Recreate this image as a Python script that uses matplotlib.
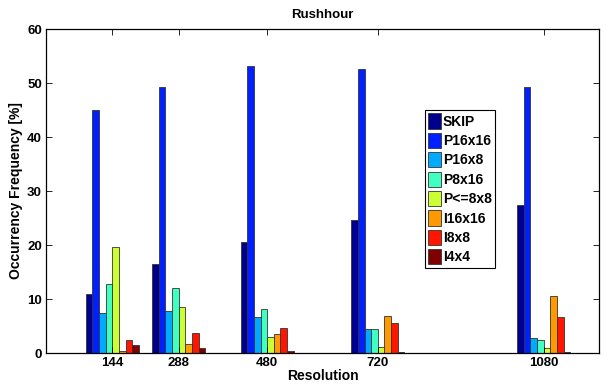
import numpy as np
import matplotlib
matplotlib.use("Agg")
import matplotlib.pyplot as plt

resolutions = [144, 288, 480, 720, 1080]
modes = ["SKIP", "P16x16", "P16x8", "P8x16", "P<=8x8", "I16x16", "I8x8", "I4x4"]

# occurrency frequency [%] per mode, one value per resolution
skip     = [11.0, 16.4, 20.5, 24.6, 27.4]
p16x16   = [45.0, 49.2, 53.2, 52.6, 49.3]
p16x8    = [7.5, 7.8, 6.6, 4.5, 2.7]
p8x16    = [12.8, 12.0, 8.1, 4.5, 2.4]
p8x8     = [19.6, 8.6, 2.9, 1.2, 0.9]
i16x16   = [0.3, 1.6, 3.6, 6.8, 10.6]
i8x8     = [2.5, 3.7, 4.7, 5.5, 6.7]
i4x4     = [1.5, 0.9, 0.4, 0.15, 0.15]

colors = ["#00008f", "#0020ff", "#00aaff", "#40ffc0", "#ccff33", "#ff9900", "#ff1500", "#800000"]

plt.rcParams["font.family"] = ["Liberation Sans", "DejaVu Sans"]
plt.rcParams["font.weight"] = "bold"

fig = plt.figure(figsize=(6.08, 3.85), dpi=100)
ax = fig.add_axes([46 / 608, 1 - 353 / 385, 553 / 608, 324 / 385])

series = [skip, p16x16, p16x8, p8x16, p8x8, i16x16, i8x8, i4x4]
n = len(series)
group_w = 0.8 * 144
w = group_w / n
x = np.array(resolutions, dtype=float)
for i, (vals, name, c) in enumerate(zip(series, modes, colors)):
    off = -group_w / 2 + w * (i + 0.5)
    ax.bar(x + off, vals, width=w, color=c, edgecolor="#333333", linewidth=0.6, label=name)

ax.set_xlim(0, 1200)
ax.set_ylim(0, 60)
ax.set_xticks(resolutions)
ax.set_xticklabels([str(r) for r in resolutions])
ax.set_yticks(range(0, 61, 10))
ax.tick_params(direction="in", top=True, right=True, labelsize=9.5, length=4, width=0.6, pad=3)
for lab in ax.get_xticklabels() + ax.get_yticklabels():
    lab.set_fontweight("bold")
for s in ax.spines.values():
    s.set_linewidth(0.9)

ax.set_title("Rushhour", fontsize=9.5, fontweight="bold", pad=8)
ax.set_xlabel("Resolution", fontsize=10, fontweight="bold", labelpad=0)
ax.set_ylabel("Occurrency Frequency [%]", fontsize=10, fontweight="bold", labelpad=3)

leg = ax.legend(loc="upper left", bbox_to_anchor=(0.685, 0.75), borderaxespad=0,
                handlelength=0.9, handleheight=1.3, handletextpad=0.15,
                labelspacing=0.3, borderpad=0.25, fancybox=False, framealpha=1,
                edgecolor="black", prop={"weight": "bold", "size": 10})
leg.get_frame().set_linewidth(0.8)

fig.savefig("out.png", dpi=100)
